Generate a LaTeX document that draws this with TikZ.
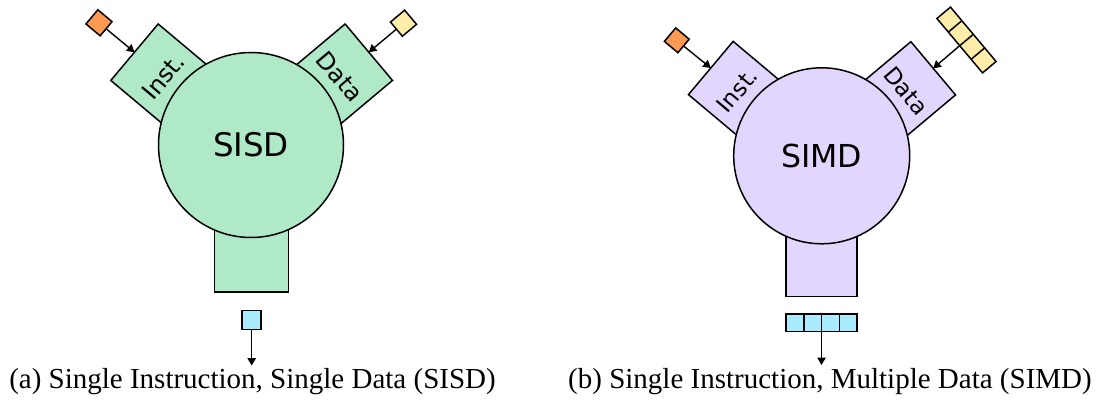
\documentclass[tikz,border=0pt]{standalone}
\usepackage{fontspec}
\setmainfont{Liberation Serif}
\newfontfamily\labelfont{DejaVu Sans}
\usetikzlibrary{arrows.meta,calc}

\definecolor{cpugreen}{RGB}{176,233,200}
\definecolor{cpupurple}{RGB}{227,214,254}
\definecolor{instorange}{RGB}{255,154,85}
\definecolor{datayellow}{RGB}{255,238,170}
\definecolor{resblue}{RGB}{170,236,255}

\begin{document}
\begin{tikzpicture}[x=1pt, y=-1pt,
  every node/.style={inner sep=0pt, outer sep=0pt},
  portbox/.style={draw, line width=1.5pt, rectangle},
  cpu/.style={draw, line width=1.5pt, circle},
  cell/.style={draw, line width=1.5pt, rectangle},
  arr/.style={line width=1.4pt, -{Triangle[length=7.5pt,width=8.5pt]}},
  lblA/.style={font=\labelfont\fontsize{24pt}{28pt}\selectfont},
  lblB/.style={font=\labelfont\fontsize{23pt}{27pt}\selectfont},
  caption/.style={anchor=base, font=\fontsize{29pt}{34pt}\selectfont}
]
\useasboundingbox (0,0) rectangle (1100,415);

% ---------- SISD ----------
\node[portbox, lblA, fill=cpugreen, rotate=50, minimum width=73.7pt, minimum height=76pt, anchor=north] (instA) at (134.5,52.2) {Inst.};
\node[portbox, lblA, fill=cpugreen, rotate=-50, minimum width=73.7pt, minimum height=76pt, anchor=north] (dataA) at (368.8,52.2) {Data};
\node[portbox, fill=cpugreen, minimum width=74.4pt, minimum height=76pt, anchor=south] (outA) at (251.5,292) {};
\node[cpu, fill=cpugreen, minimum size=185pt, font=\labelfont\fontsize{32.5pt}{38pt}\selectfont] (cpuA) at (251,145) {SISD};

\node[cell, fill=instorange, rotate=50, minimum size=18.5pt] (inA) at (99,22.8) {};
\node[cell, fill=datayellow, rotate=-50, minimum size=18.5pt] (dinA) at (403.5,23.2) {};
\node[cell, fill=resblue, minimum size=19pt] (resA) at (251.7,320.2) {};
\coordinate (endA) at (251.7,365.5);

\draw[arr] (inA.south) -- (instA.north);
\draw[arr] (dinA.south) -- (dataA.north);
\draw[arr] (resA.south) -- (endA);

% ---------- SIMD ----------
\node[portbox, lblB, fill=cpupurple, rotate=50, minimum width=69.5pt, minimum height=69pt, anchor=north] (instB) at (710.8,68) {Inst.};
\node[portbox, lblB, fill=cpupurple, rotate=-50, minimum width=69.5pt, minimum height=70pt, anchor=north] (dataB) at (933.2,68.3) {Data};
\node[portbox, fill=cpupurple, minimum width=71pt, minimum height=74pt, anchor=south] (outB) at (821.5,296.7) {};
\node[cpu, fill=cpupurple, minimum size=176pt, font=\labelfont\fontsize{31.6pt}{37pt}\selectfont] (cpuB) at (821.7,155.8) {SIMD};

\node[cell, fill=instorange, rotate=50, minimum size=17.6pt] (inB) at (676.8,40.3) {};
\node[cell, fill=datayellow, rotate=-50, minimum width=71pt, minimum height=17.7pt] (dinB) at (966.5,40) {};
\foreach \f in {0.25,0.5,0.75}
  \draw[line width=1.5pt] ($(dinB.north west)!\f!(dinB.north east)$) -- ($(dinB.south west)!\f!(dinB.south east)$);
\node[cell, fill=resblue, minimum width=71pt, minimum height=17.7pt] (resB) at (821.5,322.8) {};
\foreach \f in {0.25,0.5,0.75}
  \draw[line width=1.5pt] ($(resB.north west)!\f!(resB.north east)$) -- ($(resB.south west)!\f!(resB.south east)$);
\coordinate (endB) at (821.5,365);

\draw[arr] (inB.south) -- (instB.north);
\draw[arr] (dinB.south) -- (dataB.north);
\draw[arr] (resB.south) -- (endB);

% ---------- captions ----------
\node[caption] (capA) at (252.5,388) {(a) Single Instruction, Single Data (SISD)};
\node[caption] (capB) at (830,388) {(b) Single Instruction, Multiple Data (SIMD)};
\end{tikzpicture}
\end{document}
